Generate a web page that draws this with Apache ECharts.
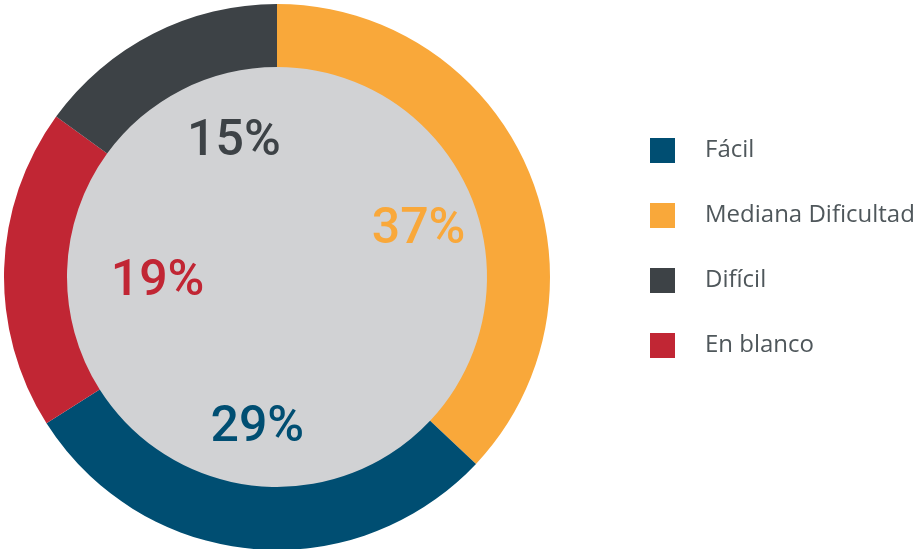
<!DOCTYPE html>
<html lang="es">
<head>
    <meta charset="UTF-8">
    <title>Dificultad</title>
    <script src="https://cdn.jsdelivr.net/npm/echarts@6/dist/echarts.min.js"></script>
    <style>
        html, body { margin: 0; padding: 0; background: #fff; }
        #main { width: 921px; height: 549px; }
    </style>
</head>
<body>
<div id="main"></div>
<script>
    // order in the ring, clockwise from 12 o'clock
    const names = ['Mediana Dificultad', 'Fácil', 'En blanco', 'Difícil'];
    const values = [37, 29, 19, 15];
    const colors = ['#f9a83a', '#004e72', '#c12634', '#3d4246'];
    const legendOrder = ['Fácil', 'Mediana Dificultad', 'Difícil', 'En blanco'];
    // small nudges for the percentage labels
    const labelNudge = [[8, 11], [-6, 7], [26, 10], [23, -5]];

    const ringData = names.map(function (n, i) {
        return { name: n, value: values[i], itemStyle: { color: colors[i] } };
    });
    const labelData = names.map(function (n, i) {
        return {
            name: n, value: values[i],
            label: { color: colors[i] }
        };
    });

    let myChart = echarts.init(document.getElementById('main'));
    let option = {
        backgroundColor: '#ffffff',
        animation: false,
        legend: {
            data: legendOrder,
            orient: 'vertical',
            left: 645,
            top: 133,
            itemWidth: 25,
            itemHeight: 25,
            itemGap: 40,
            icon: 'rect',
            textStyle: {
                fontFamily: 'Open Sans',
                fontSize: 24,
                color: '#4f575b',
                padding: [0, 0, 0, 25]
            }
        },
        series: [
            {
                // inner gray disc
                type: 'pie',
                center: [277, 277],
                radius: [0, 211],
                silent: true,
                label: { show: false },
                labelLine: { show: false },
                data: [{ name: '', value: 1, itemStyle: { color: '#d1d2d4' } }]
            },
            {
                name: 'ring',
                type: 'pie',
                center: [277, 277],
                radius: [210, 273],
                startAngle: 90,
                clockwise: true,
                label: { show: false },
                labelLine: { show: false },
                data: ringData
            },
            {
                // transparent ring only used to place the percentages
                type: 'pie',
                center: [277, 277],
                radius: [70, 215],
                startAngle: 90,
                clockwise: true,
                silent: true,
                legendHoverLink: false,
                itemStyle: { color: 'rgba(0,0,0,0)' },
                label: {
                    show: true,
                    position: 'inside',
                    formatter: '{c}%',
                    fontFamily: 'Roboto',
                    fontSize: 50,
                    fontWeight: 500
                },
                labelLayout: function (p) {
                    const d = labelNudge[p.dataIndex];
                    return { dx: d[0], dy: d[1] };
                },
                labelLine: { show: false },
                data: labelData
            }
        ]
    };
    myChart.setOption(option);
</script>
</body>
</html>
